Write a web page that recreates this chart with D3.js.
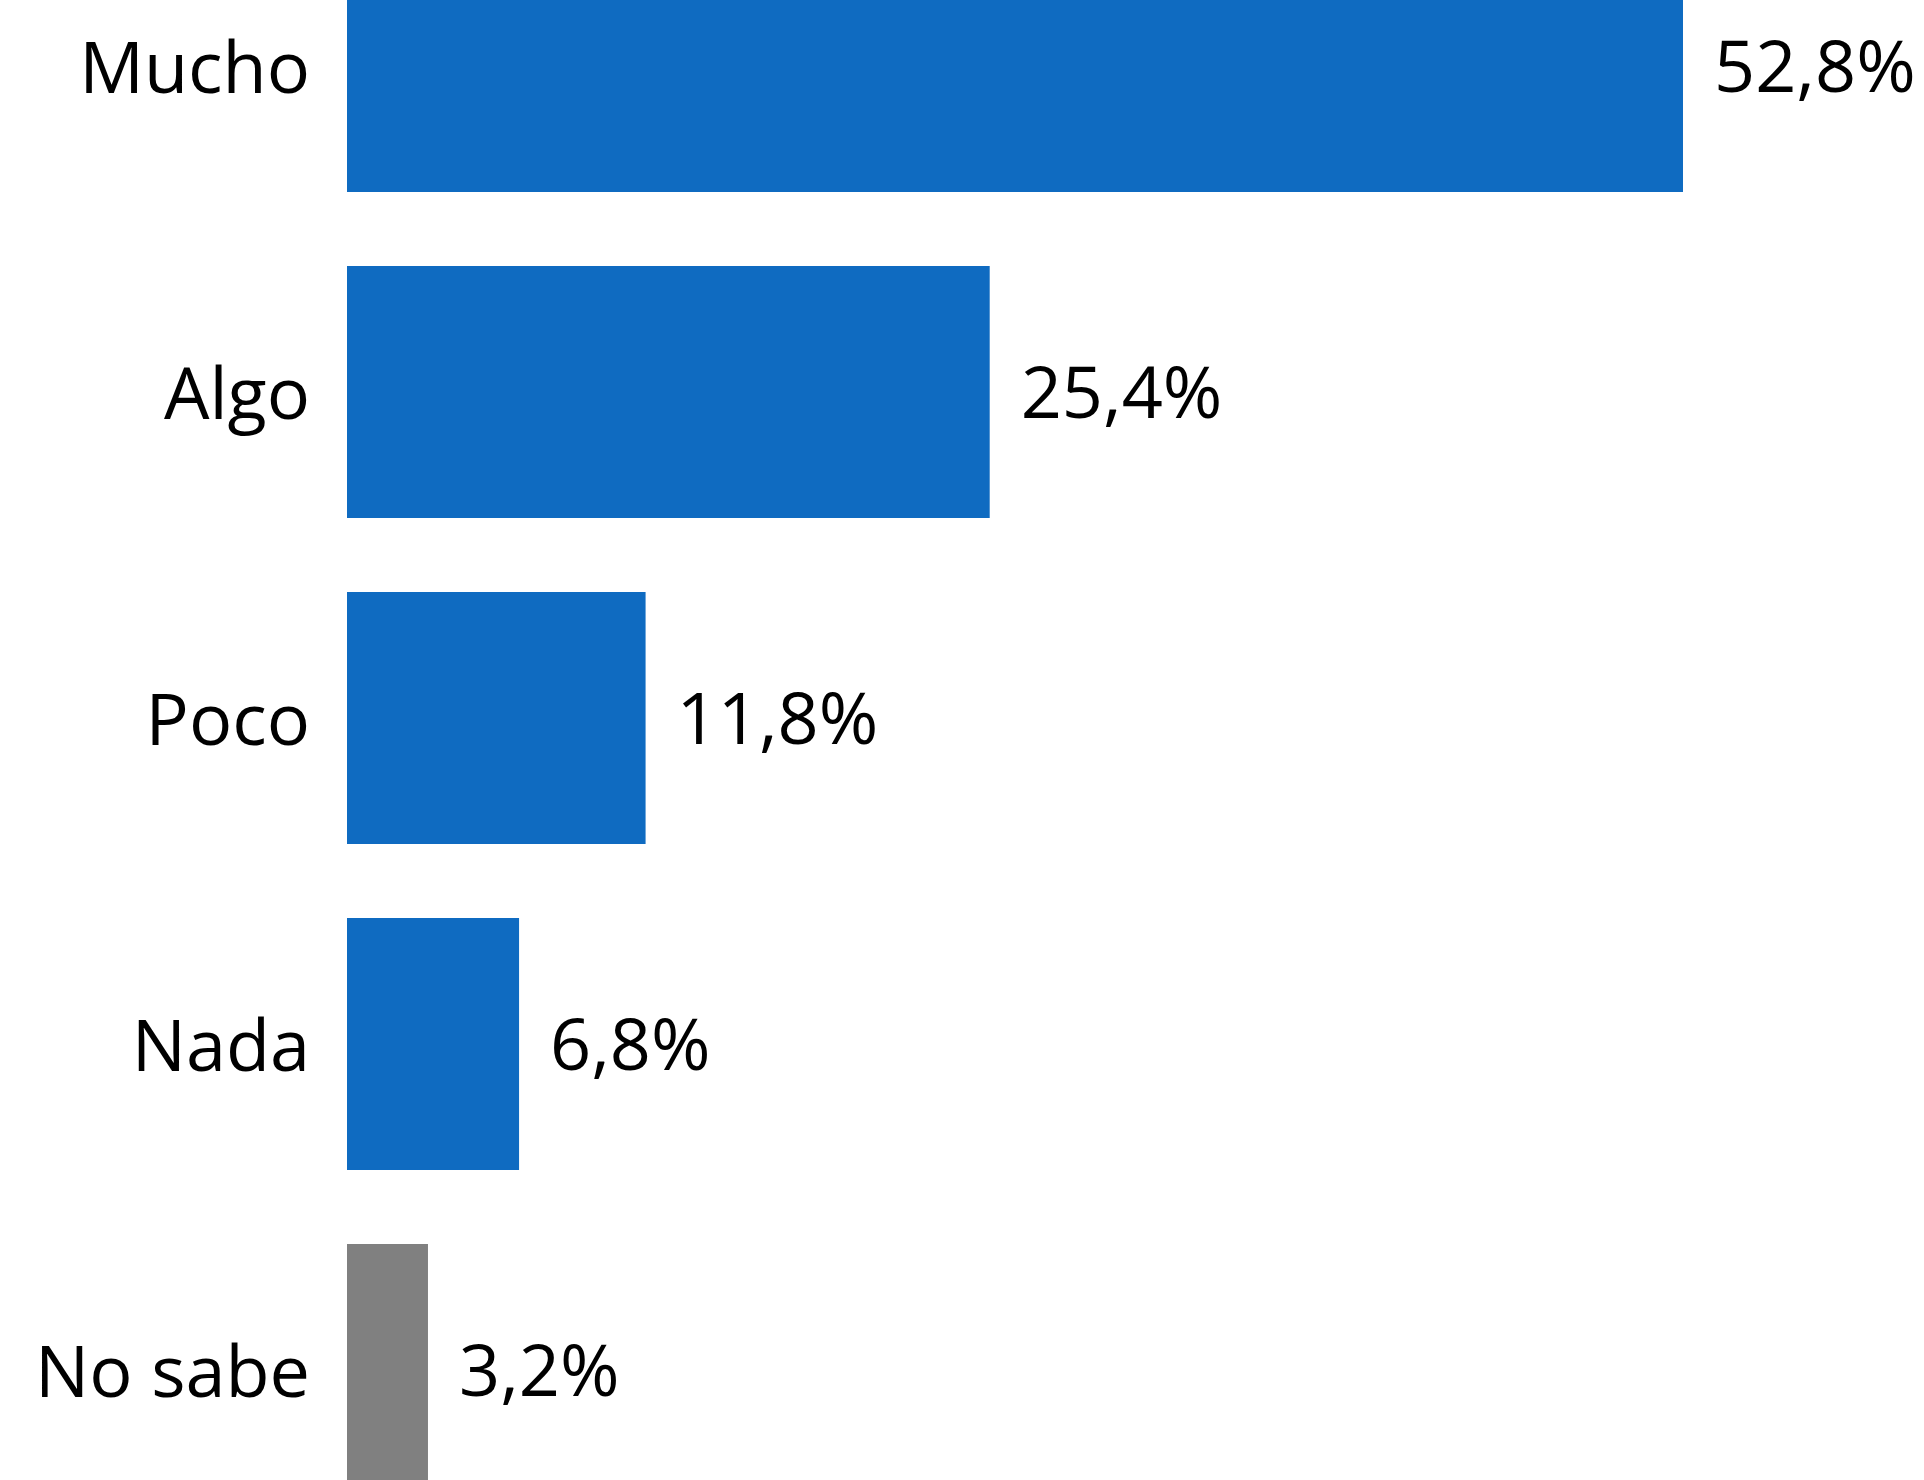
<!DOCTYPE html>
<html>
<head>
<meta charset="utf-8">
<script src="https://cdn.jsdelivr.net/npm/d3@7"></script>
<style>
  html, body { margin: 0; padding: 0; background: #fff; overflow: hidden; }
  svg { display: block; }
</style>
</head>
<body>
<svg id="chart" width="1924" height="1480"></svg>
<script>
const categories = ["Mucho", "Algo", "Poco", "Nada", "No sabe"];
const values = [52.8, 25.4, 11.8, 6.8, 3.2];
const valueLabels = ["52,8%", "25,4%", "11,8%", "6,8%", "3,2%"];
const barColors = ["#0F6BC1", "#0F6BC1", "#0F6BC1", "#0F6BC1", "#808080"];

const svg = d3.select("#chart");
const fontFamily = "'Open Sans', 'Noto Sans', sans-serif";
const fontSize = 72;

const step = 326;
const pad = 74 / step;
const y = d3.scaleBand()
  .domain(categories)
  .range([-60 - pad / 2 * step, -60 - pad / 2 * step + categories.length * step])
  .paddingInner(pad)
  .paddingOuter(pad / 2);

const x = d3.scaleLinear().domain([0, 52.8]).range([347, 1683]);

const data = categories.map((c, i) => ({ c, v: values[i], label: valueLabels[i], color: barColors[i] }));

svg.selectAll("rect.bar")
  .data(data)
  .join("rect")
  .attr("class", "bar")
  .attr("x", x(0))
  .attr("y", d => y(d.c))
  .attr("width", d => x(d.v) - x(0))
  .attr("height", y.bandwidth())
  .attr("fill", d => d.color);

svg.selectAll("text.cat")
  .data(data)
  .join("text")
  .attr("class", "cat")
  .attr("x", 310)
  .attr("y", d => y(d.c) + y.bandwidth() / 2 + 27)
  .attr("text-anchor", "end")
  .style("font-family", fontFamily)
  .style("font-size", fontSize + "px")
  .attr("fill", "#000")
  .text(d => d.c);

svg.selectAll("text.val")
  .data(data)
  .join("text")
  .attr("class", "val")
  .attr("x", d => x(d.v) + 31)
  .attr("y", d => y(d.c) + y.bandwidth() / 2 + 26)
  .attr("text-anchor", "start")
  .style("font-family", fontFamily)
  .style("font-size", fontSize + "px")
  .attr("fill", "#000")
  .text(d => d.label);
</script>
</body>
</html>
